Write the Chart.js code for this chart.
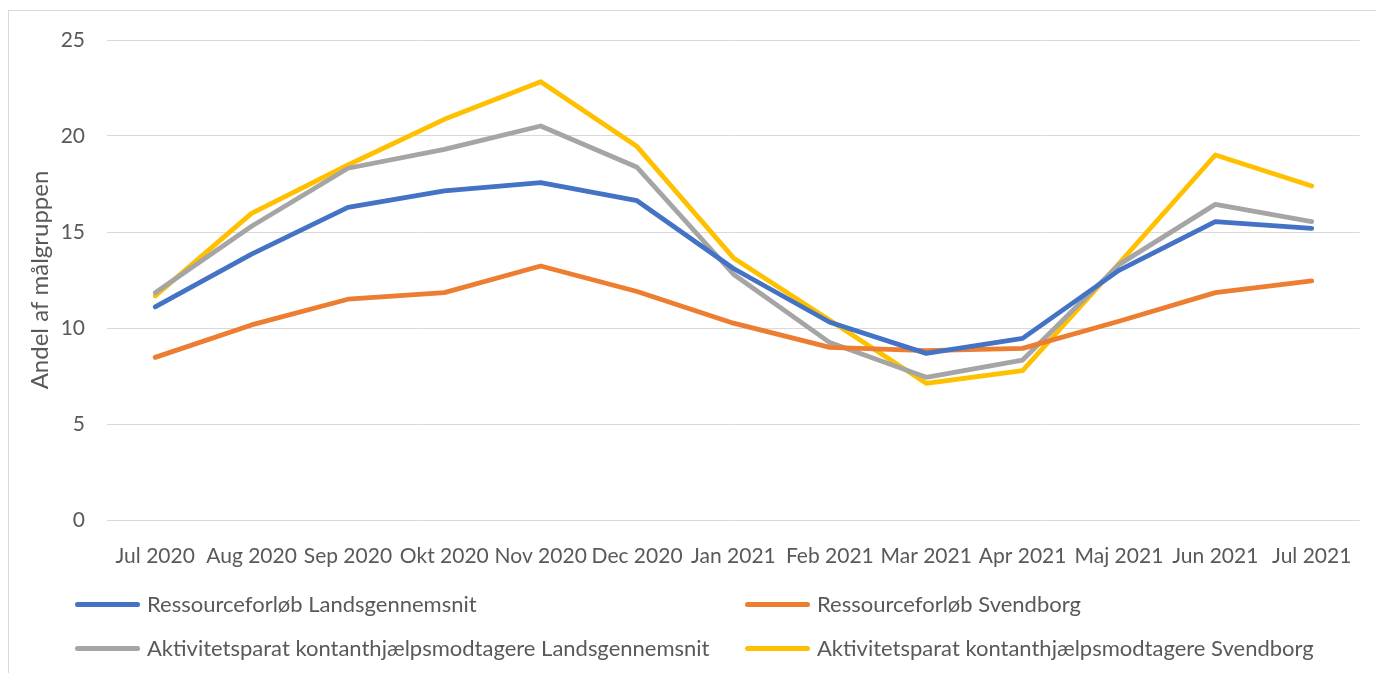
<!DOCTYPE html>
<html>
<head>
<meta charset="utf-8">
<script src="https://cdn.jsdelivr.net/npm/chart.js@4"></script>
<style>
  html, body { margin:0; padding:0; background:#fff; }
  #wrap { position:relative; width:1376px; height:673px; overflow:hidden; }
  #frame { position:absolute; left:8px; top:10px; width:1400px; height:700px; border:1px solid #d9d9d9; box-sizing:border-box; }
  canvas { position:absolute; left:0; top:0; }
  .lg { position:absolute; font-family:Lato, sans-serif; font-size:22px; color:#595959; white-space:nowrap; line-height:26px; }
  .lg span.sw { position:absolute; left:0; top:11px; width:65px; height:5px; border-radius:3px; }
  .lg span.tx { position:absolute; left:72px; top:0; }
</style>
</head>
<body>
<div id="wrap">
  <div id="frame"></div>
  <canvas id="c" width="1376" height="673"></canvas>
  <div id="legend"></div>
</div>
<script>
const categories = ["Jul 2020","Aug 2020","Sep 2020","Okt 2020","Nov 2020","Dec 2020","Jan 2021","Feb 2021","Mar 2021","Apr 2021","Maj 2021","Jun 2021","Jul 2021"];
const seriesNames = ["Ressourceforløb Landsgennemsnit","Ressourceforløb Svendborg","Aktivitetsparat kontanthjælpsmodtagere Landsgennemsnit","Aktivitetsparat kontanthjælpsmodtagere Svendborg"];
const ressLand = [11.1, 13.85, 16.28, 17.14, 17.57, 16.63, 13.1, 10.3, 8.68, 9.46, 13.0, 15.54, 15.19];
const ressSvend = [8.47, 10.16, 11.5, 11.84, 13.23, 11.9, 10.25, 8.99, 8.82, 8.94, 10.35, 11.84, 12.45];
const aktLand = [11.84, 15.3, 18.32, 19.3, 20.52, 18.37, 12.8, 9.24, 7.43, 8.33, 13.3, 16.44, 15.54];
const aktSvend = [11.67, 15.97, 18.49, 20.87, 22.83, 19.45, 13.65, 10.4, 7.12, 7.78, 13.35, 19.01, 17.4];
const yTicks = [0, 5, 10, 15, 20, 25];
const yTitle = "Andel af målgruppen";

const colors = ["#4472C4", "#ED7D31", "#A5A5A5", "#FFC000"];
const allData = [ressLand, ressSvend, aktLand, aktSvend];

const datasets = allData.map((d, i) => ({
  label: seriesNames[i],
  data: d,
  borderColor: colors[i],
  backgroundColor: colors[i],
  borderWidth: 4.8,
  pointRadius: 0,
  pointHoverRadius: 0,
  tension: 0,
  fill: false,
  borderCapStyle: 'round',
  borderJoinStyle: 'round'
}));

const tickFont = { family: "Lato, sans-serif", size: 21 };
const titleFont = { family: "Lato, sans-serif", size: 24 };

new Chart(document.getElementById('c'), {
  type: 'line',
  data: { labels: categories, datasets: datasets },
  options: {
    responsive: false,
    devicePixelRatio: 1,
    animation: false,
    layout: { padding: { top: 40, right: 16, left: 0, bottom: 93 } },
    plugins: { legend: { display: false }, tooltip: { enabled: false } },
    scales: {
      x: {
        offset: true,
        grid: { display: false, drawTicks: false },
        border: { display: false },
        ticks: { color: '#595959', font: tickFont, maxRotation: 0, autoSkip: false, padding: 24 },
        afterFit: s => { s.height = 60; }
      },
      y: {
        min: 0, max: 25,
        afterBuildTicks: s => { s.ticks = yTicks.map(v => ({ value: v })); },
        grid: { color: '#d9d9d9', lineWidth: 1, drawTicks: false },
        border: { display: false },
        ticks: { color: '#595959', font: tickFont, padding: 22 },
        title: { display: true, text: yTitle, color: '#595959', font: titleFont, padding: { top: 26, bottom: 0 } },
        afterFit: s => { s.width = 107; }
      }
    }
  }
});

const legendPos = [[75, 591], [745, 591], [75, 635], [745, 635]];
const lg = document.getElementById('legend');
seriesNames.forEach((n, i) => {
  const d = document.createElement('div');
  d.className = 'lg';
  d.style.left = legendPos[i][0] + 'px';
  d.style.top = legendPos[i][1] + 'px';
  d.innerHTML = '<span class="sw" style="background:' + colors[i] + '"></span><span class="tx"></span>';
  d.querySelector('.tx').textContent = n;
  lg.appendChild(d);
});
</script>
</body>
</html>
